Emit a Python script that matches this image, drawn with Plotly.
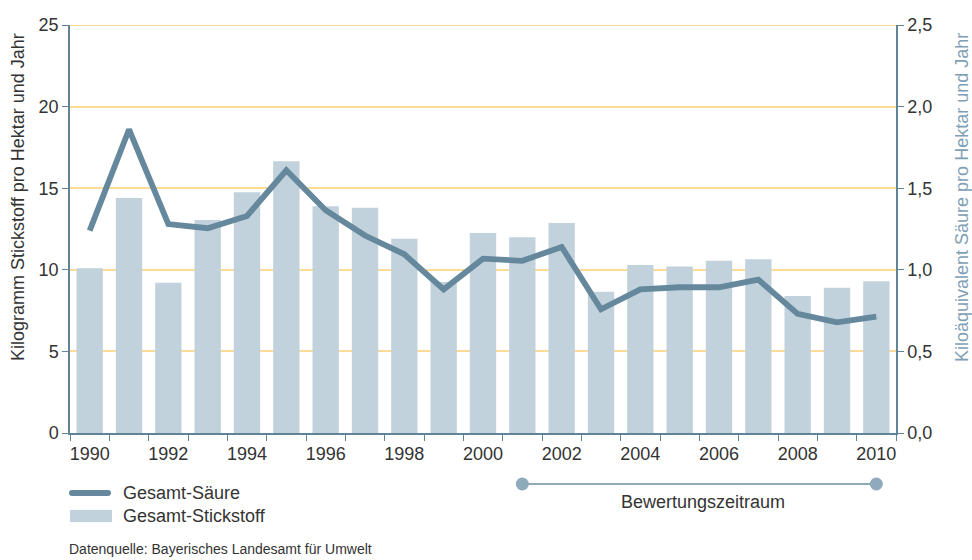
import plotly.graph_objects as go

years = [str(y) for y in range(1990, 2011)]
stickstoff = [10.1, 14.4, 9.2, 13.05, 14.75, 16.65, 13.9, 13.8, 11.9, 9.25, 12.25,
              12.0, 12.87, 8.65, 10.3, 10.2, 10.55, 10.65, 8.4, 8.9, 9.3]
saeure = [1.24, 1.86, 1.28, 1.255, 1.33, 1.61, 1.365, 1.21, 1.095, 0.88, 1.068,
          1.055, 1.14, 0.758, 0.88, 0.893, 0.893, 0.94, 0.73, 0.678, 0.713]
tick_text = [y if int(y) % 2 == 0 else "" for y in years]
left_ticks = [0, 5, 10, 15, 20, 25]
right_ticks = [0, 0.5, 1.0, 1.5, 2.0, 2.5]

FONT = "Liberation Sans"
AXIS = "#5f8397"
TXT = "#333333"
BAR = "#c1d2dd"
LINE = "#65889d"
GRID = "#fbdb96"
FS = 18

# plot area in pixels
L, R, T, B = 70, 896, 25, 433
W, H = R - L, B - T


def px(xp):
    return (xp - L) / W


def py(yp):
    return (B - yp) / H


fig = go.Figure()
fig.add_trace(go.Bar(x=years, y=stickstoff, name="Gesamt-Stickstoff",
                     marker=dict(color=BAR, line=dict(width=0)), width=0.67))
fig.add_trace(go.Scatter(x=years, y=saeure, name="Gesamt-Säure", yaxis="y2",
                         mode="lines", line=dict(color=LINE, width=5.8)))

fig.update_layout(
    width=972, height=560,
    margin=dict(l=L, r=972 - R, t=T, b=560 - B),
    paper_bgcolor="white", plot_bgcolor="white",
    separators=",.",
    font=dict(family=FONT, color=TXT, size=FS),
    showlegend=False,
    xaxis=dict(type="category", tickmode="array", tickvals=years, ticktext=tick_text,
               tickson="boundaries", ticks="outside", ticklen=6, tickcolor=AXIS,
               tickangle=0, automargin=False, ticklabelstandoff=4,
               showline=True, linecolor=AXIS, linewidth=1.5, showgrid=False,
               tickfont=dict(size=FS, color=TXT), range=[-0.5, 20.5]),
    yaxis=dict(range=[0, 25], tickvals=left_ticks, ticks="outside", ticklen=6,
               tickcolor=AXIS, showline=True, linecolor=AXIS, linewidth=1.5,
               automargin=False,
               showgrid=True, gridcolor=GRID, gridwidth=1.5, zeroline=False,
               tickfont=dict(size=FS, color=TXT)),
    yaxis2=dict(range=[0, 2.5], tickvals=right_ticks, tickformat=".1f", overlaying="y",
                side="right", ticks="outside", ticklen=6, tickcolor=AXIS,
                automargin=False,
                showline=True, linecolor=AXIS, linewidth=1.5, showgrid=False,
                zeroline=False, tickfont=dict(size=FS, color=TXT)),
)

# top gridline at 25 (plotly skips the gridline on the range edge)
fig.add_shape(type="line", xref="paper", yref="y", x0=0, x1=1, y0=25, y1=25,
              line=dict(color=GRID, width=2), layer="above")

# axis titles
fig.add_annotation(text="Kilogramm Stickstoff pro Hektar und Jahr", xref="paper", yref="paper",
                   x=px(18), y=py(197), textangle=-90, showarrow=False,
                   font=dict(size=FS, color=TXT), xanchor="center", yanchor="middle")
fig.add_annotation(text="Kiloäquivalent Säure pro Hektar und Jahr", xref="paper", yref="paper",
                   x=px(962), y=py(198), textangle=-90, showarrow=False,
                   font=dict(size=FS, color="#7fa0b4"), xanchor="center", yanchor="middle")

# custom legend
fig.add_shape(type="line", xref="paper", yref="paper", x0=px(72), x1=px(108),
              y0=py(493), y1=py(493), line=dict(color=LINE, width=6))
for xc in (72, 108):
    fig.add_shape(type="circle", xref="paper", yref="paper", x0=px(xc - 3), x1=px(xc + 3),
                  y0=py(496), y1=py(490), line=dict(width=0), fillcolor=LINE)
fig.add_shape(type="rect", xref="paper", yref="paper", x0=px(70), x1=px(112),
              y0=py(522), y1=py(510), line=dict(width=0), fillcolor=BAR)
fig.add_annotation(text="Gesamt-Säure", xref="paper", yref="paper", x=px(121), y=py(493),
                   xanchor="left", yanchor="middle", showarrow=False,
                   font=dict(size=FS, color=TXT))
fig.add_annotation(text="Gesamt-Stickstoff", xref="paper", yref="paper", x=px(121), y=py(516),
                   xanchor="left", yanchor="middle", showarrow=False,
                   font=dict(size=FS, color=TXT))

# Bewertungszeitraum bracket
fig.add_shape(type="line", xref="x", yref="paper", x0=11, x1=20, y0=py(484), y1=py(484),
              line=dict(color="#6a8ca0", width=1.5))
for xv in (11, 20):
    fig.add_shape(type="circle", xref="x", yref="paper", xsizemode="pixel",
                  xanchor=xv, x0=-6.5, x1=6.5, y0=py(490.5), y1=py(477.5),
                  line=dict(width=0), fillcolor="#8faabb")

fig.add_annotation(text="Bewertungszeitraum", xref="x", yref="paper", x=15.6, y=py(502),
                   showarrow=False, font=dict(size=FS, color=TXT), yanchor="middle")
fig.add_annotation(text="Datenquelle: Bayerisches Landesamt für Umwelt", xref="paper",
                   yref="paper", x=px(67), y=py(549), xanchor="left", yanchor="middle",
                   showarrow=False, font=dict(size=14, color=TXT))

fig.write_html("out.html", config={"displayModeBar": False},
               post_script="document.body.style.margin='0px';"
                           "document.documentElement.style.overflow='hidden';")
